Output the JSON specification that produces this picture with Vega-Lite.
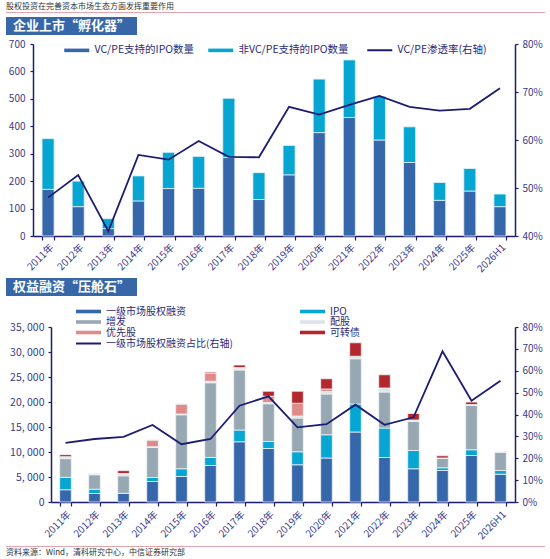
{
  "$schema": "https://vega.github.io/schema/vega-lite/v6.json",
  "background": "white",
  "padding": {"left": 6, "top": 2, "right": 0, "bottom": 0},
  "spacing": 4,
  "config": {
    "font": "Noto Sans CJK SC",
    "view": {"stroke": null},
    "axis": {
      "grid": false,
      "title": null,
      "labelColor": "#3a3a8a",
      "labelFontSize": 10,
      "domainColor": "#1c1c72",
      "domainWidth": 1.5,
      "tickColor": "#1c1c72",
      "tickWidth": 1.2,
      "tickSize": 3
    },
    "legend": {
      "title": null,
      "labelColor": "#2b2b7a",
      "labelFontSize": 10.5,
      "labelOffset": 12.5,
      "symbolSize": 64
    }
  },
  "resolve": {
    "scale": {"color": "independent", "stroke": "independent"},
    "legend": {"color": "independent", "stroke": "independent"}
  },
  "datasets": {
    "ipo": [
      {"year": "2011年", "VC/PE支持的IPO数量": 170, "非VC/PE支持的IPO数量": 185, "rate": 0.480},
      {"year": "2012年", "VC/PE支持的IPO数量": 107, "非VC/PE支持的IPO数量": 93, "rate": 0.527},
      {"year": "2013年", "VC/PE支持的IPO数量": 27, "非VC/PE支持的IPO数量": 36, "rate": 0.410},
      {"year": "2014年", "VC/PE支持的IPO数量": 128, "非VC/PE支持的IPO数量": 91, "rate": 0.569},
      {"year": "2015年", "VC/PE支持的IPO数量": 173, "非VC/PE支持的IPO数量": 132, "rate": 0.559},
      {"year": "2016年", "VC/PE支持的IPO数量": 174, "非VC/PE支持的IPO数量": 116, "rate": 0.598},
      {"year": "2017年", "VC/PE支持的IPO数量": 286, "非VC/PE支持的IPO数量": 216, "rate": 0.565},
      {"year": "2018年", "VC/PE支持的IPO数量": 133, "非VC/PE支持的IPO数量": 98, "rate": 0.564},
      {"year": "2019年", "VC/PE支持的IPO数量": 223, "非VC/PE支持的IPO数量": 107, "rate": 0.669},
      {"year": "2020年", "VC/PE支持的IPO数量": 377, "非VC/PE支持的IPO数量": 195, "rate": 0.653},
      {"year": "2021年", "VC/PE支持的IPO数量": 432, "非VC/PE支持的IPO数量": 210, "rate": 0.673},
      {"year": "2022年", "VC/PE支持的IPO数量": 350, "非VC/PE支持的IPO数量": 159, "rate": 0.692},
      {"year": "2023年", "VC/PE支持的IPO数量": 268, "非VC/PE支持的IPO数量": 130, "rate": 0.669},
      {"year": "2024年", "VC/PE支持的IPO数量": 130, "非VC/PE支持的IPO数量": 65, "rate": 0.661},
      {"year": "2025年", "VC/PE支持的IPO数量": 164, "非VC/PE支持的IPO数量": 82, "rate": 0.665},
      {"year": "2026H1", "VC/PE支持的IPO数量": 107, "非VC/PE支持的IPO数量": 46, "rate": 0.708}
    ],
    "ipoOrder": [
      {"series": "VC/PE支持的IPO数量", "k": 1},
      {"series": "非VC/PE支持的IPO数量", "k": 2}
    ],
    "equity": [
      {"year": "2011年", "一级市场股权融资": 2450, "IPO": 2480, "增发": 3740, "配股": 300, "优先股": 100, "可转债": 400, "share": 0.270},
      {"year": "2012年", "一级市场股权融资": 1700, "IPO": 850, "增发": 2900, "配股": 150, "优先股": 0, "可转债": 0, "share": 0.288},
      {"year": "2013年", "一级市场股权融资": 1750, "IPO": 0, "增发": 3500, "配股": 450, "优先股": 0, "可转债": 570, "share": 0.298},
      {"year": "2014年", "一级市场股权融资": 4100, "IPO": 800, "增发": 6000, "配股": 150, "优先股": 1350, "可转债": 0, "share": 0.352},
      {"year": "2015年", "一级市场股权融资": 5100, "IPO": 1550, "增发": 10800, "配股": 150, "优先股": 2000, "可转债": 0, "share": 0.264},
      {"year": "2016年", "一级市场股权融资": 7300, "IPO": 1600, "增发": 14950, "配股": 300, "优先股": 1650, "可转债": 200, "share": 0.288},
      {"year": "2017年", "一级市场股权融资": 12050, "IPO": 2350, "增发": 12000, "配股": 300, "优先股": 200, "可转债": 500, "share": 0.440},
      {"year": "2018年", "一级市场股权融资": 10700, "IPO": 1400, "增发": 7550, "配股": 250, "优先股": 1250, "可转债": 1000, "share": 0.483},
      {"year": "2019年", "一级市场股权融资": 7450, "IPO": 2600, "增发": 6750, "配股": 400, "优先股": 2550, "可转债": 2400, "share": 0.341},
      {"year": "2020年", "一级市场股权融资": 8800, "IPO": 4650, "增发": 8150, "配股": 500, "优先股": 500, "可转债": 2050, "share": 0.356},
      {"year": "2021年", "一级市场股权融资": 14000, "IPO": 5600, "增发": 9050, "配股": 500, "优先股": 0, "可转债": 2700, "share": 0.445},
      {"year": "2022年", "一级市场股权融资": 8900, "IPO": 5900, "增发": 7200, "配股": 800, "优先股": 0, "可转债": 2650, "share": 0.353},
      {"year": "2023年", "一级市场股权融资": 6650, "IPO": 3650, "增发": 5800, "配股": 300, "优先股": 0, "可转债": 1300, "share": 0.387},
      {"year": "2024年", "一级市场股权融资": 6300, "IPO": 550, "增发": 1900, "配股": 50, "优先股": 0, "可转债": 450, "share": 0.689},
      {"year": "2025年", "一级市场股权融资": 9300, "IPO": 1150, "增发": 8850, "配股": 200, "优先股": 0, "可转债": 500, "share": 0.463},
      {"year": "2026H1", "一级市场股权融资": 5550, "IPO": 750, "增发": 3650, "配股": 50, "优先股": 0, "可转债": 0, "share": 0.554}
    ],
    "equityOrder": [
      {"series": "一级市场股权融资", "k": 1},
      {"series": "IPO", "k": 2},
      {"series": "增发", "k": 3},
      {"series": "配股", "k": 4},
      {"series": "优先股", "k": 5},
      {"series": "可转债", "k": 6}
    ]
  },
  "vconcat": [
    {
      "width": 539,
      "height": 1,
      "title": {"text": "股权投资在完善资本市场生态方面发挥重要作用", "anchor": "start", "frame": "group", "fontSize": 8, "fontWeight": "normal", "color": "#333333", "offset": 1},
      "view": {"fill": "#e8a4ac", "stroke": null},
      "data": {"values": [{}]},
      "mark": {"type": "text", "text": "", "fontSize": 1}
    },
    {
      "width": 131,
      "height": 18,
      "view": {"fill": "#3767a8", "stroke": null},
      "data": {"values": [{"t": "企业上市“孵化器”"}]},
      "mark": {"type": "text", "color": "white", "fontSize": 13, "fontWeight": "bold", "align": "center", "baseline": "middle"},
      "encoding": {"text": {"field": "t"}}
    },
    {
      "width": 509,
      "height": 192,
      "data": {"name": "ipo"},
      "encoding": {
        "x": {
          "field": "year", "type": "nominal", "sort": null,
          "scale": {"range": [27, 509], "paddingInner": 0.6, "paddingOuter": 0.3},
          "axis": {"labelAngle": -45, "tickBand": "extent", "tickSize": 4, "labelPadding": 2}
        }
      },
      "layer": [
        {
          "transform": [
            {"fold": ["VC/PE支持的IPO数量", "非VC/PE支持的IPO数量"], "as": ["series", "count"]},
            {"lookup": "series", "from": {"data": {"name": "ipoOrder"}, "key": "series", "fields": ["k"]}}
          ],
          "mark": {"type": "bar", "stroke": "#e2f0f5", "strokeWidth": 0.8},
          "encoding": {
            "y": {
              "field": "count", "type": "quantitative", "stack": "zero",
              "scale": {"domain": [0, 700], "nice": false},
              "axis": {"offset": -27, "values": [0, 100, 200, 300, 400, 500, 600, 700], "labelExpr": "format(datum.value, 'd')", "labelPadding": 5}
            },
            "order": {"field": "k", "type": "quantitative", "sort": "ascending"},
            "color": {
              "field": "series", "type": "nominal",
              "scale": {"domain": ["VC/PE支持的IPO数量", "非VC/PE支持的IPO数量"], "range": ["#3567aa", "#07a6d2"]},
              "legend": {"orient": "none", "legendX": 65.5, "legendY": 1, "padding": 0, "direction": "horizontal", "symbolType": "M-3.125,-0.45H3.125V0.45H-3.125Z", "symbolStrokeWidth": 0, "columnPadding": 13}
            }
          }
        },
        {
          "mark": {"type": "line", "strokeWidth": 1.8},
          "encoding": {
            "y": {
              "field": "rate", "type": "quantitative",
              "scale": {"domain": [0.4, 0.8], "nice": false, "zero": false},
              "axis": {"orient": "right", "values": [0.4, 0.5, 0.6, 0.7, 0.8], "labelExpr": "format(datum.value, '.0%')", "labelPadding": 4}
            },
            "stroke": {
              "datum": "VC/PE渗透率(右轴)", "type": "nominal",
              "scale": {"range": ["#1c1c72"]},
              "legend": {"orient": "none", "legendX": 368.5, "legendY": 1, "padding": 0, "symbolType": "M-3.125,0H3.125", "symbolStrokeWidth": 2}
            }
          }
        }
      ],
      "resolve": {"scale": {"y": "independent"}}
    },
    {
      "width": 131,
      "height": 18,
      "view": {"fill": "#3767a8", "stroke": null},
      "data": {"values": [{"t": "权益融资“压舱石”"}]},
      "mark": {"type": "text", "color": "white", "fontSize": 13, "fontWeight": "bold", "align": "center", "baseline": "middle"},
      "encoding": {"text": {"field": "t"}}
    },
    {
      "width": 509,
      "height": 175,
      "data": {"name": "equity"},
      "encoding": {
        "x": {
          "field": "year", "type": "nominal", "sort": null,
          "scale": {"range": [45, 509], "paddingInner": 0.6, "paddingOuter": 0.3},
          "axis": {"labelAngle": -45, "tickBand": "extent", "tickSize": 4, "labelPadding": 3}
        }
      },
      "layer": [
        {
          "transform": [
            {"fold": ["一级市场股权融资", "IPO", "增发", "配股", "优先股", "可转债"], "as": ["series", "amount"]},
            {"lookup": "series", "from": {"data": {"name": "equityOrder"}, "key": "series", "fields": ["k"]}}
          ],
          "mark": {"type": "bar", "stroke": "#eef3f6", "strokeWidth": 0.8},
          "encoding": {
            "y": {
              "field": "amount", "type": "quantitative", "stack": "zero",
              "scale": {"domain": [0, 35000], "nice": false},
              "axis": {"offset": -45, "values": [0, 5000, 10000, 15000, 20000, 25000, 30000, 35000], "labelExpr": "replace(format(datum.value, ','), ',', ', ')", "labelPadding": 4, "labelFontSize": 10.5}
            },
            "order": {"field": "k", "type": "quantitative", "sort": "ascending"},
            "color": {
              "field": "series", "type": "nominal",
              "scale": {"domain": ["一级市场股权融资", "IPO", "增发", "配股", "优先股", "可转债"], "range": ["#3567aa", "#07a6d2", "#97a8b3", "#dde4ea", "#e08a8a", "#b3282d"]},
              "legend": {"orient": "none", "legendX": 71, "legendY": -27, "padding": 6.5, "direction": "horizontal", "columns": 2, "columnPadding": 113, "rowPadding": 0.5, "labelFontSize": 10, "symbolType": "M-3.125,-0.45H3.125V0.45H-3.125Z", "symbolStrokeWidth": 0}
            }
          }
        },
        {
          "mark": {"type": "line", "strokeWidth": 1.8},
          "encoding": {
            "y": {
              "field": "share", "type": "quantitative",
              "scale": {"domain": [0, 0.8], "nice": false},
              "axis": {"orient": "right", "values": [0, 0.1, 0.2, 0.3, 0.4, 0.5, 0.6, 0.7, 0.8], "labelExpr": "format(datum.value, '.0%')", "labelPadding": 4}
            },
            "stroke": {
              "datum": "一级市场股权融资占比(右轴)", "type": "nominal",
              "scale": {"range": ["#1c1c72"]},
              "legend": {"orient": "none", "legendX": 77.5, "legendY": 11.5, "padding": 0, "labelFontSize": 10, "symbolType": "M-3.125,0H3.125", "symbolStrokeWidth": 2}
            }
          }
        }
      ],
      "resolve": {"scale": {"y": "independent"}}
    },
    {
      "width": 539,
      "height": 1,
      "title": {"text": "资料来源：Wind，清科研究中心，中信证券研究部", "orient": "bottom", "anchor": "start", "frame": "group", "fontSize": 8, "fontWeight": "normal", "color": "#333333", "offset": 2},
      "view": {"fill": "#e8a4ac", "stroke": null},
      "data": {"values": [{}]},
      "mark": {"type": "text", "text": "", "fontSize": 1}
    }
  ]
}
